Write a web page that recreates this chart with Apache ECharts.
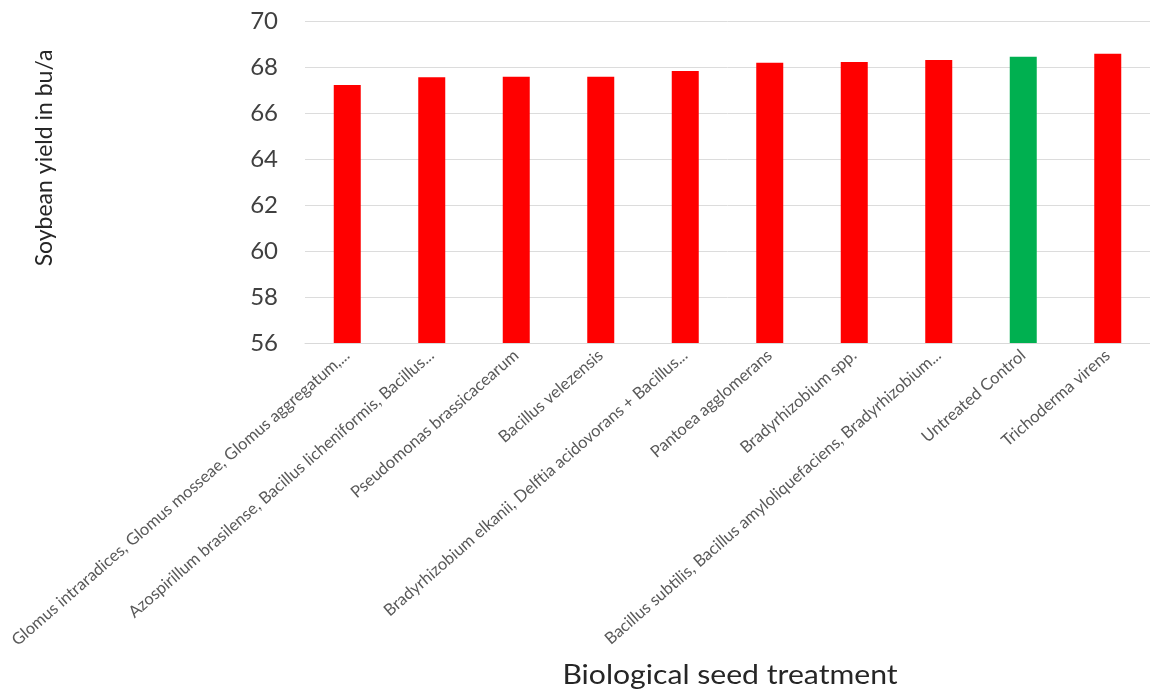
<!DOCTYPE html>
<html>
<head>
<meta charset="utf-8">
<script src="https://cdn.jsdelivr.net/npm/echarts@6/dist/echarts.min.js"></script>
<style>
  html, body { margin: 0; padding: 0; background: #ffffff; }
  #chart { width: 1150px; height: 690px; }
</style>
</head>
<body>
<div id="chart"></div>
<script>
// Biological seed treatments (labels as printed on the axis)
const treatments = [
  'Glomus intraradices, Glomus mosseae, Glomus aggregatum,...',
  'Azospirillum brasilense, Bacillus licheniformis, Bacillus...',
  'Pseudomonas brassicacearum',
  'Bacillus velezensis',
  'Bradyrhizobium elkanii, Delftia acidovorans + Bacillus...',
  'Pantoea agglomerans',
  'Bradyrhizobium spp.',
  'Bacillus subtilis, Bacillus amyloliquefaciens, Bradyrhizobium...',
  'Untreated Control',
  'Trichoderma virens'
];

// Soybean yield, bu/a
const yields = [67.22, 67.55, 67.58, 67.58, 67.83, 68.19, 68.22, 68.30, 68.45, 68.58];

// Control treatment is highlighted
const controlName = 'Untreated Control';

// Value axis range
const yMin = 56;
const yMax = 70;
const yStep = 2;

const RED = '#ff0000';
const GREEN = '#00b050';
const FONT = 'Lato, "Open Sans", sans-serif';

const chart = echarts.init(document.getElementById('chart'), null, { renderer: 'canvas' });

chart.setOption({
  backgroundColor: '#ffffff',
  animation: false,
  grid: { left: 305, top: 21, width: 848, height: 322, containLabel: false },
  xAxis: {
    type: 'category',
    data: treatments,
    axisTick: { show: false },
    axisLine: { show: true, lineStyle: { color: '#d9d9d9', width: 1 } },
    axisLabel: {
      interval: 0,
      rotate: 41,
      margin: 10,
      fontFamily: FONT,
      fontSize: 16.5,
      color: '#595959'
    }
  },
  yAxis: {
    type: 'value',
    min: yMin,
    max: yMax,
    interval: yStep,
    axisLine: { show: false },
    axisTick: { show: false },
    splitLine: { lineStyle: { color: '#dcdcdc', width: 1 } },
    axisLabel: {
      margin: 27,
      fontFamily: FONT,
      fontSize: 24,
      color: '#404040'
    }
  },
  graphic: [
    {
      type: 'text',
      x: 45, y: 158,
      rotation: Math.PI / 2,
      style: {
        text: 'Soybean yield in bu/a',
        fontFamily: FONT, fontSize: 23, fill: '#262626',
        textAlign: 'center', textVerticalAlign: 'middle'
      }
    },
    {
      type: 'text',
      x: 730, y: 676,
      scaleX: 1.16,
      style: {
        text: 'Biological seed treatment',
        fontFamily: FONT, fontSize: 26, fill: '#262626',
        textAlign: 'center', textVerticalAlign: 'middle'
      }
    }
  ],
  series: [{
    type: 'bar',
    barWidth: 27,
    data: yields.map((v, i) => ({
      value: v,
      itemStyle: { color: treatments[i] === controlName ? GREEN : RED }
    }))
  }]
});
</script>
</body>
</html>
